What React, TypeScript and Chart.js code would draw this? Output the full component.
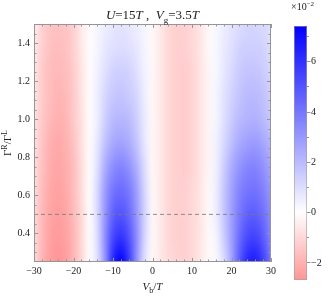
import React, { useEffect, useRef } from 'react';
import { Chart, registerables } from 'chart.js';
Chart.register(...registerables);

// Bias voltage grid (V_b / T)
const VB = [-30, -28, -26, -24, -22, -20, -18, -16, -14, -12, -10, -8, -6, -4, -2, 0, 2, 4, 6, 8, 10, 12, 14, 16, 18, 20, 22, 24, 26, 28, 30];
// Asymmetry grid (Γ^R / Γ^L)
const RATIO = [0.25, 0.375, 0.5, 0.625, 0.75, 0.875, 1.0, 1.125, 1.25, 1.375, 1.5];

// Field values (×10^-2), one row per RATIO entry
const Z_025 = [-1.0, -1.9, -2.5, -2.7, -2.5, -1.9, -1.0, -0.1, 0.9, 3.1, 6.3, 7.4, 5.8, 3.1, 0.9, -0.2, -0.6, -0.9, -1.1, -1.2, -1.0, -0.6, -0.2, 0.2, 1.0, 2.6, 4.8, 6.3, 6.6, 5.6, 4.0];
const Z_0375 = [-1.0, -1.8, -2.4, -2.6, -2.4, -1.9, -1.0, -0.1, 1.0, 3.3, 5.4, 6.0, 5.1, 3.3, 1.2, -0.2, -0.6, -1.0, -1.2, -1.2, -1.0, -0.7, -0.2, 0.3, 1.4, 2.8, 4.3, 5.3, 5.5, 4.8, 3.6];
const Z_05 = [-1.0, -1.8, -2.3, -2.5, -2.3, -1.8, -1.0, -0.1, 1.1, 3.1, 4.6, 5.0, 4.4, 3.0, 1.3, -0.2, -0.6, -1.0, -1.2, -1.2, -1.0, -0.7, -0.2, 0.5, 1.6, 2.8, 3.9, 4.6, 4.7, 4.2, 3.3];
const Z_0625 = [-0.9, -1.7, -2.2, -2.4, -2.2, -1.7, -0.9, -0.1, 1.1, 2.9, 4.0, 4.3, 3.9, 2.8, 1.2, -0.2, -0.6, -1.0, -1.2, -1.2, -1.0, -0.7, -0.2, 0.5, 1.6, 2.7, 3.6, 4.0, 4.1, 3.7, 3.0];
const Z_075 = [-0.9, -1.6, -2.1, -2.3, -2.1, -1.7, -0.9, -0.1, 0.9, 2.4, 3.3, 3.6, 3.2, 2.3, 1.0, -0.2, -0.6, -1.0, -1.2, -1.3, -1.1, -0.7, -0.3, 0.4, 1.4, 2.4, 3.1, 3.5, 3.6, 3.2, 2.6];
const Z_0875 = [-0.8, -1.5, -2.0, -2.2, -2.0, -1.6, -0.8, -0.1, 0.7, 1.8, 2.5, 2.7, 2.4, 1.7, 0.7, -0.2, -0.6, -1.0, -1.2, -1.3, -1.1, -0.7, -0.3, 0.4, 1.1, 1.9, 2.5, 2.8, 2.9, 2.6, 2.1];
const Z_100 = [-0.8, -1.4, -1.8, -2.0, -1.9, -1.4, -0.8, -0.1, 0.5, 1.4, 2.0, 2.1, 2.0, 1.4, 0.6, -0.2, -0.6, -1.0, -1.2, -1.3, -1.1, -0.7, -0.3, 0.3, 0.9, 1.5, 2.0, 2.2, 2.3, 2.0, 1.6];
const Z_1125 = [-0.7, -1.3, -1.7, -1.9, -1.8, -1.4, -0.7, -0.1, 0.5, 1.2, 1.6, 1.7, 1.5, 1.2, 0.5, -0.2, -0.6, -1.0, -1.2, -1.3, -1.1, -0.7, -0.3, 0.3, 0.8, 1.3, 1.7, 2.0, 2.0, 1.8, 1.4];
const Z_125 = [-0.7, -1.3, -1.7, -1.8, -1.7, -1.3, -0.7, -0.1, 0.4, 0.9, 1.3, 1.4, 1.3, 0.9, 0.4, -0.2, -0.6, -1.0, -1.2, -1.3, -1.1, -0.7, -0.3, 0.2, 0.7, 1.1, 1.5, 1.7, 1.7, 1.5, 1.2];
const Z_1375 = [-0.6, -1.2, -1.6, -1.7, -1.6, -1.2, -0.6, -0.1, 0.3, 0.7, 0.9, 1.0, 0.9, 0.7, 0.3, -0.2, -0.6, -1.0, -1.2, -1.2, -1.0, -0.7, -0.2, 0.2, 0.6, 0.9, 1.3, 1.4, 1.4, 1.3, 1.0];
const Z_150 = [-0.6, -1.1, -1.5, -1.6, -1.5, -1.2, -0.6, -0.1, 0.3, 0.5, 0.7, 0.8, 0.7, 0.5, 0.3, -0.2, -0.6, -1.0, -1.2, -1.2, -1.0, -0.7, -0.2, 0.2, 0.5, 0.8, 1.0, 1.2, 1.2, 1.1, 0.9];
const Z_ROWS = [Z_025, Z_0375, Z_05, Z_0625, Z_075, Z_0875, Z_100, Z_1125, Z_125, Z_1375, Z_150];

const X_TICKS = [-30, -20, -10, 0, 10, 20, 30];
const Y_TICKS = [0.4, 0.6, 0.8, 1.0, 1.2, 1.4];
const CB_TICKS = [-2, 0, 2, 4, 6];
const CB_MIN = -2.7;
const CB_MAX = 7.4;
const GUIDE_RATIO = 0.5;

const SERIF = '"Liberation Serif", "DejaVu Serif", serif';
const FRAME = 'rgb(150,150,150)';
const TEXT = '#222';

function colorFor(v: number): [number, number, number] {
  if (v >= 0) {
    const t = Math.min(v / CB_MAX, 1);
    const c = Math.round(255 * (1 - t));
    return [c, c, 255];
  }
  const t = Math.min(v / CB_MIN, 1);
  const c = Math.round(255 - 105 * t);
  return [255, c, c];
}

function fmt(v: number) {
  return v < 0 ? '\u2212' + String(Math.abs(v)) : String(v);
}

type Seg = { t: string; italic?: boolean; sub?: boolean; sup?: boolean };

function drawSegs(ctx: CanvasRenderingContext2D, segs: Seg[], cx: number, baseY: number, size: number) {
  const fontOf = (s: Seg) => {
    const sz = s.sub || s.sup ? Math.round(size * 0.72) : size;
    return `${s.italic ? 'italic ' : ''}${sz}px ${SERIF}`;
  };
  let total = 0;
  for (const s of segs) {
    ctx.font = fontOf(s);
    total += ctx.measureText(s.t).width;
  }
  let x = cx - total / 2;
  ctx.textAlign = 'left';
  ctx.textBaseline = 'alphabetic';
  for (const s of segs) {
    ctx.font = fontOf(s);
    const dy = s.sub ? size * 0.28 : s.sup ? -size * 0.4 : 0;
    ctx.fillText(s.t, x, baseY + dy);
    x += ctx.measureText(s.t).width;
  }
}

const heatmapPlugin = {
  id: 'heatmap',
  beforeDatasetsDraw(chart: any) {
    const { ctx, chartArea, scales } = chart;
    const xs = scales.x;
    const ys = scales.y;
    const nx = VB.length;
    const ny = RATIO.length;
    const off = document.createElement('canvas');
    off.width = nx;
    off.height = ny;
    const octx = off.getContext('2d')!;
    const img = octx.createImageData(nx, ny);
    for (let j = 0; j < ny; j++) {
      const row = Z_ROWS[j];
      const r = ny - 1 - j;
      for (let i = 0; i < nx; i++) {
        const [cr, cg, cb] = colorFor(row[i]);
        const k = (r * nx + i) * 4;
        img.data[k] = cr;
        img.data[k + 1] = cg;
        img.data[k + 2] = cb;
        img.data[k + 3] = 255;
      }
    }
    octx.putImageData(img, 0, 0);
    const dx = (VB[1] - VB[0]) / 2;
    const dy = (RATIO[1] - RATIO[0]) / 2;
    const x0 = xs.getPixelForValue(VB[0] - dx);
    const x1 = xs.getPixelForValue(VB[nx - 1] + dx);
    const yT = ys.getPixelForValue(RATIO[ny - 1] + dy);
    const yB = ys.getPixelForValue(RATIO[0] - dy);
    ctx.save();
    ctx.beginPath();
    ctx.rect(chartArea.left, chartArea.top, chartArea.right - chartArea.left, chartArea.bottom - chartArea.top);
    ctx.clip();
    ctx.imageSmoothingEnabled = true;
    (ctx as any).imageSmoothingQuality = 'high';
    ctx.drawImage(off, x0, yT, x1 - x0, yB - yT);
    ctx.restore();
  },
};

const decorPlugin = {
  id: 'decor',
  afterDraw(chart: any) {
    const { ctx, chartArea, scales } = chart;
    const xs = scales.x;
    const ys = scales.y;
    const { left, right, top, bottom } = chartArea;
    ctx.save();
    // frame
    ctx.strokeStyle = FRAME;
    ctx.lineWidth = 1;
    ctx.strokeRect(left + 0.5, top + 0.5, right - left - 1, bottom - top - 1);
    // x ticks
    ctx.beginPath();
    for (let v = -30; v <= 30; v += 2) {
      const major = v % 10 === 0;
      const len = major ? 4 : 2.5;
      const px = Math.round(xs.getPixelForValue(v)) + 0.5;
      ctx.moveTo(px, bottom);
      ctx.lineTo(px, bottom - len);
      ctx.moveTo(px, top);
      ctx.lineTo(px, top + len);
    }
    for (let k = 6; k <= 30; k++) {
      const v = k * 0.05;
      const major = k % 4 === 0;
      const len = major ? 4 : 2.5;
      const py = Math.round(ys.getPixelForValue(v)) + 0.5;
      ctx.moveTo(left, py);
      ctx.lineTo(left + len, py);
      ctx.moveTo(right, py);
      ctx.lineTo(right - len, py);
    }
    ctx.stroke();

    // title
    ctx.fillStyle = TEXT;
    drawSegs(ctx, [
      { t: 'U', italic: true },
      { t: '=15' },
      { t: 'T', italic: true },
      { t: ' ,  ' },
      { t: 'V', italic: true },
      { t: 'g', sub: true },
      { t: '=3.5' },
      { t: 'T', italic: true },
    ], (left + right) / 2, 19, 13);

    // x axis title
    drawSegs(ctx, [
      { t: 'V', italic: true },
      { t: 'b', sub: true },
      { t: '/' },
      { t: 'T', italic: true },
    ], (left + right) / 2, 290, 11);

    // y axis title
    ctx.save();
    ctx.translate(11, (top + bottom) / 2);
    ctx.rotate(-Math.PI / 2);
    drawSegs(ctx, [
      { t: '\u0393' },
      { t: 'R', sup: true },
      { t: '/' },
      { t: '\u0393' },
      { t: 'L', sup: true },
    ], 0, 0, 11);
    ctx.restore();

    // colorbar
    const cbL = 294, cbR = 307, cbT = 26, cbB = 280;
    const toY = (v: number) => cbT + ((CB_MAX - v) / (CB_MAX - CB_MIN)) * (cbB - cbT);
    for (let py = cbT; py < cbB; py++) {
      const v = CB_MAX - ((py + 0.5 - cbT) / (cbB - cbT)) * (CB_MAX - CB_MIN);
      const [r, g, b] = colorFor(v);
      ctx.fillStyle = `rgb(${r},${g},${b})`;
      ctx.fillRect(cbL, py, cbR - cbL, 1);
    }
    ctx.strokeStyle = 'rgba(160,160,160,0.6)';
    ctx.lineWidth = 1;
    ctx.strokeRect(cbL + 0.5, cbT + 0.5, cbR - cbL - 1, cbB - cbT - 1);
    ctx.strokeStyle = FRAME;
    ctx.beginPath();
    for (let v = -2; v <= 7; v++) {
      const major = v % 2 === 0;
      const py = Math.round(toY(v)) + 0.5;
      ctx.moveTo(cbR, py);
      ctx.lineTo(cbR + (major ? 3.5 : 2), py);
    }
    ctx.stroke();
    ctx.fillStyle = TEXT;
    ctx.font = `10px ${SERIF}`;
    ctx.textAlign = 'left';
    ctx.textBaseline = 'middle';
    for (const v of CB_TICKS) {
      ctx.fillText(fmt(v), 311, toY(v) + 0.5);
    }
    // ×10^-2
    ctx.textBaseline = 'alphabetic';
    ctx.font = `10px ${SERIF}`;
    ctx.fillText('\u00d710', 291, 10);
    const w = ctx.measureText('\u00d710').width;
    ctx.font = `7px ${SERIF}`;
    ctx.fillText('\u22122', 291 + w, 6);
    ctx.restore();
  },
};

export default function App() {
  const ref = useRef<HTMLCanvasElement | null>(null);
  useEffect(() => {
    if (!ref.current) return;
    const chart = new Chart(ref.current, {
      type: 'line',
      data: {
        datasets: [
          {
            data: [
              { x: VB[0], y: GUIDE_RATIO },
              { x: VB[VB.length - 1], y: GUIDE_RATIO },
            ],
            borderColor: 'rgba(125,125,125,0.85)',
            borderWidth: 1,
            borderDash: [4, 3],
            pointRadius: 0,
            fill: false,
          },
        ],
      },
      options: {
        responsive: false,
        animation: false,
        devicePixelRatio: 1,
        layout: { padding: { left: 0, right: 61, top: 24, bottom: 0 } },
        plugins: { legend: { display: false }, tooltip: { enabled: false }, title: { display: false } },
        scales: {
          x: {
            type: 'linear',
            min: -30,
            max: 30,
            grid: { display: false, drawTicks: false },
            border: { display: false },
            afterBuildTicks: (s: any) => { s.ticks = X_TICKS.map((v) => ({ value: v })); },
            afterFit: (s: any) => { s.height = 43; },
            ticks: {
              padding: 3,
              color: TEXT,
              font: { family: SERIF, size: 10 },
              maxRotation: 0,
              autoSkip: false,
              callback: (v: any) => fmt(Number(v)),
            },
          },
          y: {
            type: 'linear',
            min: 0.25,
            max: 1.5,
            grid: { display: false, drawTicks: false },
            border: { display: false },
            afterBuildTicks: (s: any) => { s.ticks = Y_TICKS.map((v) => ({ value: v })); },
            afterFit: (s: any) => { s.width = 34; },
            ticks: {
              padding: 4,
              color: TEXT,
              font: { family: SERIF, size: 10 },
              autoSkip: false,
              callback: (v: any) => Number(v).toFixed(1),
            },
          },
        },
      },
      plugins: [heatmapPlugin, decorPlugin],
    } as any);
    return () => chart.destroy();
  }, []);
  return (
    <div style={{ position: 'fixed', left: 0, top: 0, width: 332, height: 305, background: '#fff' }}>
      <canvas ref={ref} width={332} height={305} style={{ display: 'block' }} />
    </div>
  );
}
